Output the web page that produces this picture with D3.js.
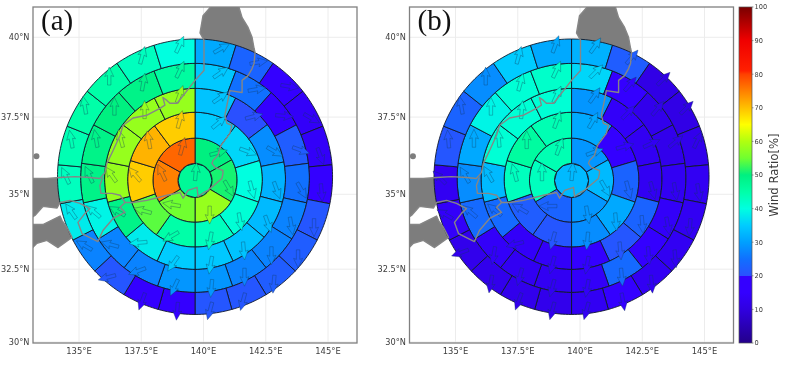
<!DOCTYPE html>
<html>
<head>
<meta charset="utf-8">
<script src="https://cdn.jsdelivr.net/npm/d3@7"></script>
<style>
  html, body { margin: 0; background: #fff; }
  svg { display: block; filter: blur(0.45px); }
  text { font-family: "DejaVu Sans", sans-serif; fill: #3c3c3c; }
  .panel-label { font-family: "Liberation Serif", serif; fill: #111; font-size: 29px; }
</style>
</head>
<body>
<svg id="chart" width="788" height="373"></svg>
<script>
// ---- data ----
const lonTicks = [135, 137.5, 140, 142.5, 145];
const latTicks = [30, 32.5, 35, 37.5, 40];
const barTicks = [0, 10, 20, 30, 40, 50, 60, 70, 80, 90, 100];

// storm-centred polar bins: ring edges in km, sectors per ring
const ringEdgesKm = [0, 62, 153, 245, 329, 416, 500];
const ringSectors = [1, 6, 10, 14, 18, 22];

// colour bar, with the hard step at 20
const stopValues = [0, 10, 15, 19.9, 20, 25, 30, 35, 40, 45, 50, 55, 60, 65, 70, 80, 81, 90, 100];
const stopColors = ["#23008a", "#3000e0", "#3400ff", "#3400ff", "#2a50ff", "#1070ff", "#00a0ff", "#00ccff",
  "#00ffe0", "#00ffa8", "#00f080", "#70ff30", "#b0ff10", "#ffff00", "#ffc000", "#ff4000", "#ff2000", "#f00000", "#7a0000"];

// wind ratio [%], one list per ring, clockwise from north
const ratioA = [
  [47],
  [50, 51, 58, 55, 75, 77],
  [35, 36, 40, 41, 43, 45, 54, 69, 71, 69],
  [34, 20, 28, 32, 33, 34, 34.5, 35, 38, 49, 58, 58, 58, 58],
  [34.5, 25, 15, 22, 25, 27, 27, 27, 29, 29, 27, 27, 39, 49, 49, 50, 49, 46],
  [31, 23, 15, 14, 14, 17, 21, 22, 22, 21, 21, 19, 17, 21, 27, 38, 43, 44, 45, 45, 43, 40]
];
const ratioB = [
  [33],
  [29, 33, 29, 23, 43, 44],
  [31, 15, 23, 31, 28, 21, 22, 43, 46, 44],
  [29, 14, 13, 13, 23, 21, 15, 14, 14, 24, 33, 41, 41, 41],
  [36, 15, 12, 12, 13, 14, 15, 24, 14, 13, 13, 14, 24, 28, 31, 39, 41, 42],
  [32, 22, 11, 11, 12, 13, 13, 13, 13, 15, 13, 12, 12, 12, 12, 14, 13, 21, 23, 28, 35, 31]
];

// wind direction, degrees clockwise from north, same order
const windA = [
  [5],
  [75, 150, 180, 280, 335, 15],
  [50, 110, 165, 170, 190, 240, 285, 320, 350, 15],
  [55, 75, 120, 160, 160, 175, 190, 215, 265, 300, 325, 345, 0, 20],
  [55, 80, 95, 110, 150, 170, 180, 180, 185, 205, 250, 285, 310, 335, 350, 0, 10, 25],
  [60, 80, 100, 120, 160, 175, 180, 180, 185, 195, 195, 185, 200, 255, 300, 325, 335, 350, 350, 0, 15, 25]
];
const windB = [
  [5],
  [70, 150, 170, 270, 0, 20],
  [30, 75, 165, 175, 185, 195, 300, 345, 0, 20],
  [35, 45, 65, 165, 175, 175, 190, 195, 255, 310, 330, 355, 5, 25],
  [45, 40, 40, 50, 170, 170, 175, 175, 190, 195, 195, 190, 310, 330, 0, 0, 15, 25],
  [35, 40, 45, 45, 25, 170, 185, 175, 175, 170, 195, 195, 200, 190, 250, 300, 315, 355, 350, 0, 15, 20]
];

// coast, [lon, lat]
const honshu = [[132.83,35.52],[133.71,35.52],[134.24,35.55],[134.84,35.58],[135.44,35.55],[135.84,35.52],
  [136.04,35.71],[136.12,36.01],[136.37,36.43],[136.65,36.92],[136.77,37.24],[137.17,37.47],[137.73,37.56],
  [138.25,37.78],[138.45,37.88],[138.37,38.12],[138.53,38.03],[138.65,37.94],[138.94,37.94],[139.34,38.34],
  [139.66,38.66],[140.02,38.97],[140.02,39.91],[139.86,40.13],[139.98,40.66],[140.26,40.9],[140.34,41.2],
  [141.43,41.2],[141.43,40.9],[141.55,40.6],[141.79,40.3],[141.95,40.0],[142.03,39.66],[142.07,39.53],
  [142.03,39.19],[141.95,39.03],[141.79,38.81],[141.55,38.66],[141.55,38.28],[141.06,38.34],[140.98,38.03],
  [140.86,37.56],[140.94,37.3],[141.14,37.24],[141.06,36.98],[140.7,36.59],[140.58,36.27],[140.38,36.1],
  [140.34,36.01],[140.46,35.88],[140.78,35.78],[140.78,35.68],[140.74,35.52],[140.18,35.13],[140.02,35.06],
  [139.78,34.93],[139.74,35.23],[139.38,35.13],[139.18,34.87],[139.06,35.06],[138.53,34.97],[137.73,34.8],
  [137.17,34.73],[136.85,34.73],[136.65,34.57],[136.85,34.4],[136.37,34.2],[135.96,33.8],[135.76,33.43],
  [135.52,33.53],[135.12,33.7],[134.96,34.07],[135.24,34.37],[135.44,34.53],[135.04,34.7],[134.64,34.8],
  [134.24,34.73],[134.12,34.55],[133.55,34.6],[133.23,34.3],[132.83,34.1]];
const shikoku = [[132.83,34.0],[133.55,34.0],[134.24,34.28],[134.32,34.13],[134.52,33.9],[134.72,33.57],
  [134.16,33.23],[133.71,33.47],[133.31,33.37],[132.83,32.97]];
const innerCoast = [[135.96,35.55],[135.84,35.29],[135.88,35.03],[136.33,35.03],[136.65,34.97],[136.85,34.73]];
const okiIsland = [133.29, 36.24];

const stormCentre = [139.66, 35.45];
const panelNames = ["(a)", "(b)"];

// ---- layout ----
const svg = d3.select("#chart");
const axisBox = { l: 33, r: 357, t: 7, b: 343 };
const panelShift = [0, 376.5];
const bar = { x: 739, w: 13, t: 7, b: 343 };

const pxPerDeg = 24.9;
const projection = d3.geoMercator().scale(pxPerDeg * 180 / Math.PI).translate([0, 0]);
const origin = projection([135, 30]);
projection.translate([79 - origin[0], 342 - origin[1]]);

const colorOf = d3.scaleLinear().domain(stopValues).range(stopColors).clamp(true);
const line = d3.line().x((d) => d[0]).y((d) => d[1]);
const coastPath = (pts) => line(pts.map((p) => projection(p))) + "Z";

// great-circle point from the storm centre
function from(azDeg, km) {
  const R = 6371, rad = Math.PI / 180, d = km / R, a = azDeg * rad;
  const la = stormCentre[1] * rad, lo = stormCentre[0] * rad;
  const la2 = Math.asin(Math.sin(la) * Math.cos(d) + Math.cos(la) * Math.sin(d) * Math.cos(a));
  const lo2 = lo + Math.atan2(Math.sin(a) * Math.sin(d) * Math.cos(la), Math.cos(d) - Math.sin(la) * Math.sin(la2));
  return projection([lo2 / rad, la2 / rad]);
}

function cellPath(ring, k) {
  const n = ringSectors[ring], a0 = k * 360 / n, a1 = (k + 1) * 360 / n;
  const r0 = ringEdgesKm[ring], r1 = ringEdgesKm[ring + 1];
  const steps = d3.range(0, 13).map((i) => a0 + (a1 - a0) * i / 12);
  const outer = steps.map((a) => from(a, r1));
  if (ring === 0) return line(outer) + "Z";
  const inner = steps.slice().reverse().map((a) => from(a, r0));
  return line(outer.concat(inner)) + "Z";
}

// quiver style arrow, tail on the cell centre, pointing up before rotation
const arrowShape = [[-1.7, 0], [-1.7, -9.5], [-4.5, -8.5], [0, -18], [4.5, -8.5], [1.7, -9.5], [1.7, 0]];

const defs = svg.append("defs");
defs.append("clipPath").attr("id", "axes-clip").append("rect")
  .attr("x", axisBox.l).attr("y", axisBox.t)
  .attr("width", axisBox.r - axisBox.l).attr("height", axisBox.b - axisBox.t);

function drawPanel(idx, ratio, wind) {
  const g = svg.append("g").attr("transform", `translate(${panelShift[idx]},0)`);

  // grid
  const grid = g.append("g").attr("stroke", "#ececec").attr("stroke-width", 1);
  lonTicks.forEach((t) => {
    const x = projection([t, 35])[0];
    grid.append("line").attr("x1", x).attr("x2", x).attr("y1", axisBox.t).attr("y2", axisBox.b);
  });
  latTicks.forEach((t) => {
    const y = projection([135, t])[1];
    grid.append("line").attr("x1", axisBox.l).attr("x2", axisBox.r).attr("y1", y).attr("y2", y);
  });

  // land under the bins
  const land = g.append("g").attr("clip-path", "url(#axes-clip)");
  land.selectAll("path").data([honshu, shikoku]).join("path")
    .attr("d", coastPath).attr("fill", "#7d7d7d");
  const oki = projection(okiIsland);
  land.append("circle").attr("cx", oki[0]).attr("cy", oki[1]).attr("r", 3).attr("fill", "#7d7d7d");

  // bins
  const cells = [];
  ratio.forEach((vals, ring) => vals.forEach((v, k) => cells.push({ ring, k, v, dir: wind[ring][k] })));
  g.append("g").selectAll("path").data(cells).join("path")
    .attr("d", (c) => cellPath(c.ring, c.k))
    .attr("fill", (c) => colorOf(c.v))
    .attr("stroke", "#10182a").attr("stroke-width", 0.9);

  // arrows
  g.append("g").selectAll("path").data(cells).join("path")
    .attr("d", line(arrowShape) + "Z")
    .attr("transform", (c) => {
      const n = ringSectors[c.ring];
      const mid = (c.k + 0.5) * 360 / n;
      const km = c.ring === 0 ? 0 : (ringEdgesKm[c.ring] + ringEdgesKm[c.ring + 1]) / 2;
      const p = from(mid, km);
      return `translate(${p[0]},${p[1]}) rotate(${c.dir})`;
    })
    .attr("fill", (c) => colorOf(c.v))
    .attr("stroke", "#123a5a").attr("stroke-opacity", 0.5).attr("stroke-width", 0.65);

  // coast over everything
  const coast = g.append("g").attr("clip-path", "url(#axes-clip)")
    .attr("fill", "none").attr("stroke", "#868686").attr("stroke-width", 1.4).attr("stroke-linejoin", "round");
  coast.selectAll("path.c").data([honshu, shikoku]).join("path").attr("class", "c").attr("d", coastPath);
  coast.append("path").attr("d", line(innerCoast.map((p) => projection(p))));

  // frame
  g.append("rect").attr("x", axisBox.l).attr("y", axisBox.t)
    .attr("width", axisBox.r - axisBox.l).attr("height", axisBox.b - axisBox.t)
    .attr("fill", "none").attr("stroke", "#808080").attr("stroke-width", 1.3);

  // tick labels
  g.selectAll("text.lon").data(lonTicks).join("text").attr("class", "lon")
    .attr("x", (t) => projection([t, 35])[0]).attr("y", 354)
    .attr("text-anchor", "middle").attr("font-size", 8.4)
    .text((t) => t + "°E");
  g.selectAll("text.lat").data(latTicks).join("text").attr("class", "lat")
    .attr("x", 29.5).attr("y", (t) => projection([135, t])[1] + 2.5)
    .attr("text-anchor", "end").attr("font-size", 8.2)
    .text((t) => t + "°N");

  g.append("text").attr("class", "panel-label")
    .attr("x", 41).attr("y", 30).text(panelNames[idx]);
}

drawPanel(0, ratioA, windA);
drawPanel(1, ratioB, windB);

// ---- colour bar ----
const barY = d3.scaleLinear().domain([0, 100]).range([bar.b, bar.t]);
const grad = defs.append("linearGradient").attr("id", "bar-grad")
  .attr("x1", 0).attr("x2", 0).attr("y1", 1).attr("y2", 0);
stopValues.forEach((v, i) => {
  grad.append("stop").attr("offset", v + "%").attr("stop-color", stopColors[i]);
});
svg.append("rect").attr("x", bar.x).attr("y", bar.t).attr("width", bar.w).attr("height", bar.b - bar.t)
  .attr("fill", "url(#bar-grad)").attr("stroke", "#555").attr("stroke-width", 0.7);
svg.selectAll("line.bt").data(barTicks).join("line").attr("class", "bt")
  .attr("x1", bar.x + bar.w).attr("x2", bar.x + bar.w + 1.5)
  .attr("y1", (v) => barY(v)).attr("y2", (v) => barY(v)).attr("stroke", "#555").attr("stroke-width", 0.6);
svg.selectAll("text.bl").data(barTicks).join("text").attr("class", "bl")
  .attr("x", 754.5).attr("y", (v) => barY(v) + 2.4).attr("font-size", 6.6)
  .text((v) => v);
svg.append("text").attr("transform", "translate(778,175) rotate(-90)")
  .attr("text-anchor", "middle").attr("font-size", 11.7).text("Wind Ratio[%]");
</script>
</body>
</html>
